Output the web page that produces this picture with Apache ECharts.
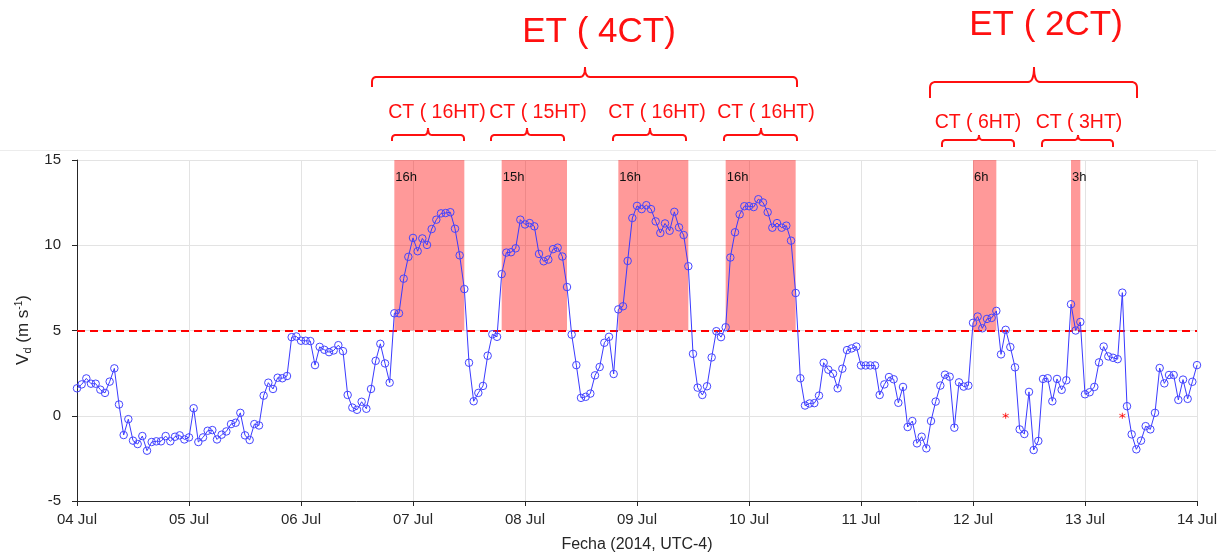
<!DOCTYPE html>
<html>
<head>
<meta charset="utf-8">
<script src="https://cdn.jsdelivr.net/npm/echarts@6/dist/echarts.min.js"></script>
<style>
html,body{margin:0;padding:0;background:#fff;}
#chart{width:1226px;height:558px;}
</style>
</head>
<body>
<div id="chart"></div>
<script>
// Tick labels (one per day, x in hours since 04 Jul 00:00)
const dayLabels = ['04 Jul','05 Jul','06 Jul','07 Jul','08 Jul','09 Jul','10 Jul','11 Jul','12 Jul','13 Jul','14 Jul'];
const yTicks = [-5, 0, 5, 10, 15];

// Hourly Vd values (m s-1), 00h..23h per day
const vd04 = [1.61,1.84,2.19,1.88,1.88,1.53,1.34,2.0,2.78,0.66,-1.13,-0.2,-1.46,-1.66,-1.19,-2.05,-1.54,-1.5,-1.5,-1.19,-1.5,-1.23,-1.15,-1.39];
const vd05 = [-1.27,0.44,-1.54,-1.27,-0.88,-0.84,-1.39,-1.11,-0.92,-0.49,-0.41,0.17,-1.15,-1.42,-0.49,-0.57,1.18,1.94,1.57,2.23,2.2,2.33,4.61,4.65];
const vd06 = [4.4,4.4,4.38,2.97,4.04,3.87,3.73,3.83,4.14,3.79,1.22,0.48,0.35,0.82,0.41,1.57,3.22,4.22,3.07,1.94,6.01,6.01,8.04,9.32];
const vd07 = [10.43,9.65,10.4,10.02,10.95,11.5,11.87,11.89,11.94,10.97,9.41,7.43,3.11,0.85,1.34,1.75,3.52,4.78,4.63,8.31,9.57,9.59,9.82,11.5];
const vd08 = [11.22,11.3,11.11,9.49,9.06,9.16,9.77,9.86,9.34,7.55,4.76,2.97,1.05,1.11,1.3,2.37,2.86,4.28,4.63,2.45,6.24,6.42,9.08,11.6];
const vd09 = [12.31,12.12,12.35,12.12,11.4,10.72,11.28,10.85,11.96,11.05,10.6,8.77,3.63,1.65,1.22,1.73,3.42,4.96,4.61,5.19,9.28,10.76,11.81,12.29];
const vd10 = [12.29,12.24,12.7,12.51,11.94,11.03,11.3,11.03,11.15,10.27,7.2,2.2,0.6,0.72,0.74,1.18,3.11,2.7,2.47,1.61,2.76,3.85,3.95,4.06];
const vd11 = [2.95,2.95,2.95,2.95,1.22,1.84,2.27,2.14,0.76,1.69,-0.66,-0.31,-1.62,-1.23,-1.91,-0.31,0.83,1.77,2.41,2.29,-0.7,1.96,1.71,1.77];
const vd12 = [5.45,5.82,5.13,5.68,5.74,6.15,3.6,5.04,4.03,2.84,-0.8,-1.07,1.4,-2.01,-1.48,2.16,2.2,0.85,2.16,1.52,2.08,6.54,5.0,5.5];
const vd13 = [1.26,1.38,1.69,3.13,4.06,3.48,3.4,3.32,7.22,0.56,-1.09,-1.97,-1.46,-0.61,-0.8,0.17,2.8,1.9,2.39,2.39,0.93,2.12,0.99,1.99];
const vd14 = [2.97];

// Threshold
const threshold = 5;

// Highlighted periods (hours since start) and their labels
const bandStart = [68, 91, 116, 139, 192, 213];
const bandEnd   = [83, 105, 131, 154, 197, 215];
const bandLabels = ['16h','15h','16h','16h','6h','3h'];

// Red asterisk markers (hour, value)
const starHours = [199, 224];
const starValues = [0, 0];

// Annotation texts
const etLabels = ['ET ( 4CT)', 'ET ( 2CT)'];
const ctLabels = ['CT ( 16HT)', 'CT ( 15HT)', 'CT ( 16HT)', 'CT ( 16HT)', 'CT ( 6HT)', 'CT ( 3HT)'];

const values = [].concat(vd04, vd05, vd06, vd07, vd08, vd09, vd10, vd11, vd12, vd13, vd14);
const lineData = values.map((v, i) => [i, v]);
const starData = starHours.map((h, i) => [h, starValues[i]]);

const FONT = "'Liberation Sans', Arial, Helvetica, sans-serif";
const RED = '#ff1010';

function bracePoints(x1, x2, xc, yb, drop, notch, r) {
  const pts = [];
  function quad(p0, c, p1) {
    for (let k = 0; k <= 8; k++) {
      const t = k / 8, u = 1 - t;
      pts.push([u*u*p0[0] + 2*u*t*c[0] + t*t*p1[0], u*u*p0[1] + 2*u*t*c[1] + t*t*p1[1]]);
    }
  }
  pts.push([x1, yb + drop]);
  quad([x1, yb + r], [x1, yb], [x1 + r, yb]);
  quad([xc - r, yb], [xc, yb], [xc, yb - notch]);
  quad([xc, yb - notch], [xc, yb], [xc + r, yb]);
  quad([x2 - r, yb], [x2, yb], [x2, yb + r]);
  pts.push([x2, yb + drop]);
  return pts;
}

const braces = [
  [372, 797, 585, 77, 10, 10, 5],
  [930, 1137, 1034, 82, 16, 15, 6],
  [392, 464, 428, 135, 6, 7, 4],
  [491, 564, 527, 135, 6, 7, 4],
  [613, 686, 650, 135, 6, 7, 4],
  [724, 797, 761, 135, 6, 7, 4],
  [942, 1014, 979, 140, 7, 5, 4],
  [1042, 1113, 1078, 140, 7, 5, 4]
];
const etPos = [[599, 32], [1046, 25]];
const ctPos = [[437, 113], [538, 113], [657, 113], [766, 113], [978, 123], [1079, 123]];

const graphics = [];
graphics.push({type:'line', shape:{x1:0, y1:150.5, x2:1216, y2:150.5}, style:{stroke:'#ececec', lineWidth:1}, silent:true});
braces.forEach(b => {
  graphics.push({type:'polyline', shape:{points: bracePoints.apply(null, b)}, style:{stroke: RED, fill: null, lineWidth: 2}, silent:true});
});
etLabels.forEach((t, i) => {
  graphics.push({type:'text', x: etPos[i][0], y: etPos[i][1], style:{text: t, fill: RED, font: '35px ' + FONT, textAlign:'center', textVerticalAlign:'middle'}});
});
ctLabels.forEach((t, i) => {
  graphics.push({type:'text', x: ctPos[i][0], y: ctPos[i][1], style:{text: t, fill: RED, font: '19.5px ' + FONT, textAlign:'center', textVerticalAlign:'middle'}});
});
// Y axis name
graphics.push({
  type:'text', x: 23, y: 330, rotation: Math.PI/2,
  style:{
    text: '{a|V}{b|d}{a| (m s}{c|-1}{a|)}',
    textAlign:'center', textVerticalAlign:'middle',
    rich:{
      a:{fontSize:17, fontFamily: FONT, fill:'#262626', lineHeight:22},
      b:{fontSize:11, fontFamily: FONT, fill:'#262626', padding:[10,0,0,0], lineHeight:22},
      c:{fontSize:10, fontFamily: FONT, fill:'#262626', padding:[0,0,8,0], lineHeight:22}
    }
  }
});

const markAreaData = bandStart.map((s, i) => [
  {xAxis: s, yAxis: threshold, name: bandLabels[i]},
  {xAxis: bandEnd[i], yAxis: 15}
]);

const chart = echarts.init(document.getElementById('chart'), null, {renderer:'canvas'});
chart.setOption({
  animation: false,
  backgroundColor: '#ffffff',
  textStyle: {fontFamily: FONT},
  grid: {left: 77, right: 29, top: 160, bottom: 55, containLabel: false},
  xAxis: {
    type: 'value', min: 0, max: 240, interval: 24,
    name: 'Fecha (2014, UTC-4)', nameLocation: 'middle', nameGap: 36,
    nameTextStyle: {fontSize: 16, color: '#262626', fontFamily: FONT},
    axisLine: {show: true, onZero: false, lineStyle: {color: '#262626', width: 1}},
    axisTick: {show: true, inside: false, length: 5, lineStyle: {color: '#262626'}},
    axisLabel: {fontSize: 15, color: '#262626', margin: 11, showMaxLabel: true, showMinLabel: true,
      formatter: v => dayLabels[Math.round(v / 24)] || ''},
    splitLine: {show: true, lineStyle: {color: '#e3e3e3', width: 1}}
  },
  yAxis: {
    type: 'value', min: -5, max: 15, interval: 5,
    axisLine: {show: true, onZero: false, lineStyle: {color: '#262626', width: 1}},
    axisTick: {show: true, inside: false, length: 5, lineStyle: {color: '#262626'}},
    axisLabel: {fontSize: 15, color: '#262626', margin: 16,
      formatter: v => yTicks.indexOf(v) >= 0 ? String(v) : ''},
    splitLine: {show: true, lineStyle: {color: '#e3e3e3', width: 1}}
  },
  series: [
    {
      type: 'line', data: [], z: 1, silent: true,
      markArea: {
        silent: true,
        itemStyle: {color: 'rgba(255,0,0,0.4)'},
        label: {show: true, position: [1, 11], color: '#111', fontSize: 13, fontFamily: FONT},
        data: markAreaData
      },
      markLine: {
        silent: true, symbol: ['none','none'],
        lineStyle: {color: '#ff0000', type: [8, 5], width: 2},
        label: {show: false},
        data: [{yAxis: threshold}]
      }
    },
    {
      type: 'line', data: lineData, z: 5,
      symbol: 'circle', symbolSize: 7.5,
      lineStyle: {color: '#3a3aff', width: 1},
      itemStyle: {color: 'rgba(0,0,0,0)', borderColor: '#4545ff', borderWidth: 1}
    },
    {
      type: 'scatter', data: starData, z: 6,
      symbol: 'path://M0,-1L0,1M-0.87,-0.5L0.87,0.5M-0.87,0.5L0.87,-0.5',
      symbolSize: 6,
      itemStyle: {color: 'none', borderColor: '#ff0000', borderWidth: 1}
    }
  ],
  graphic: graphics
});
</script>
</body>
</html>
